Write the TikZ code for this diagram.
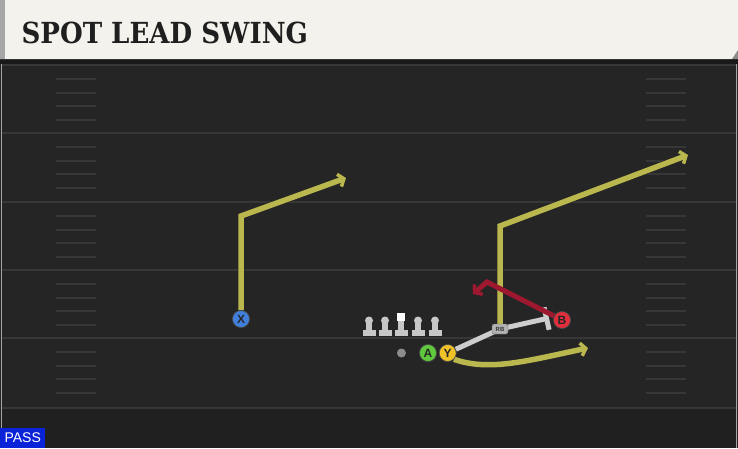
\documentclass[tikz,border=0pt]{standalone}
\usepackage{fontspec}
\setsansfont{Liberation Sans}
\newfontfamily\titleFont{DejaVu Serif Condensed}
\usetikzlibrary{shapes, positioning, arrows, arrows.meta, calc}
\definecolor{fieldColor}{RGB}{37,37,37}
\definecolor{endColor}{RGB}{32,32,32}
\definecolor{lineColor}{RGB}{55,55,55}
\definecolor{headerColor}{RGB}{244,242,236}
\definecolor{routeColor}{RGB}{186,183,78}
\definecolor{blockColor}{RGB}{205,205,205}
\definecolor{redRoute}{RGB}{158,24,48}
\definecolor{xColor}{RGB}{64,128,220}
\definecolor{aColor}{RGB}{96,200,60}
\definecolor{yColor}{RGB}{240,196,40}
\definecolor{bColor}{RGB}{225,45,60}
\definecolor{passColor}{RGB}{10,34,216}
\colorlet{lineman}{black!22}
\pgfdeclarelayer{field}
\pgfdeclarelayer{routes}
\pgfsetlayers{field,routes,main}
\tikzstyle{player}=[circle, minimum size=17pt, inner sep=0pt, draw=black!70,
line width=0.7pt, font=\sffamily\bfseries\fontsize{12}{12}\selectfont, text=black!85]
\tikzstyle{badge}=[rectangle, rounded corners=2pt, minimum width=16pt, minimum height=10pt,
inner sep=0pt, fill=black!30, draw=black!60, line width=0.4pt,
font=\sffamily\bfseries\fontsize{6}{6}\selectfont, text=black!80]
\tikzstyle{route}=[line width=5.5pt, draw=routeColor, line join=miter,
preaction={draw=black!85, line width=7pt}]
\tikzstyle{redroute}=[line width=5pt, draw=redRoute, line join=miter]
\tikzstyle{block}=[line width=5pt, draw=blockColor, -|]
\tikzstyle{arrow}=[-{Straight Barb[length=5pt, width=13pt, line width=3.5pt]}]
\tikzstyle{hash}=[line width=2pt, draw=lineColor]

\begin{document}
\begin{tikzpicture}[x=1pt, y=-1pt]
      \useasboundingbox (0,0) rectangle (738,448);
      \begin{pgfonlayer}{field}
        \fill [fieldColor] (0,59) rectangle (738,448);
        \fill [endColor] (0,409) rectangle (738,448);
        \fill [black!90] (0,59) rectangle (738,64);
        \fill [headerColor] (0,0) -- (738,0) -- (738,50) -- (732,59) -- (0,59) -- cycle;
        \fill [black!35] (0,0) rectangle (5,59);
        \fill [black!45] (732,59) -- (738,50) -- (738,59) -- cycle;
        \draw [black!35, line width=1.5pt] (1.5,64) -- (1.5,448);
        \draw [black!35, line width=1.5pt] (736.5,64) -- (736.5,448);
        \foreach \yl in {65,133,202,270,338,408}
          \draw [hash] (2,\yl) -- (736,\yl);
        \foreach \yl in {65,133,202,270,338}
          \foreach \dy in {14,28,41,55} {
            \draw [hash] (56,\yl+\dy) -- (96,\yl+\dy);
            \draw [hash] (646,\yl+\dy) -- (686,\yl+\dy);
          }
      \end{pgfonlayer}
      \node (title) [anchor=west, text=black!88,
        font=\titleFont\bfseries\fontsize{29}{29}\selectfont] at (18,32.5) {SPOT LEAD SWING};
      \node (mode) [anchor=south west, fill=passColor, text=white, minimum width=45pt,
        minimum height=20pt, inner sep=0pt, font=\sffamily\fontsize{14}{14}\selectfont]
        at (0,448) {PASS};
      \foreach \lx in {369,385,418,435} {
        \fill [lineman] (\lx,320.5) circle [radius=4pt];
        \fill [lineman] (\lx-3,321) rectangle (\lx+3,331);
        \fill [lineman] (\lx-6.5,330) rectangle (\lx+6.5,336);
      }
      \fill [white] (397,313) rectangle (405,321);
      \fill [lineman] (398,321) rectangle (404,331);
      \fill [lineman] (394.5,330) rectangle (407.5,336);
      \node (X) [player, fill=xColor] at (241,319) {X};
      \node (A) [player, fill=aColor] at (428,353) {A};
      \node (Y) [player, fill=yColor, right=2pt of A] {Y};
      \node (ball) [circle, fill=black!45, minimum size=9pt, inner sep=0pt, left=13pt of A] {};
      \node (B) [player, fill=bColor] at (562,320) {B};
      \node (RB) [badge] at (500,329) {RB};
      \coordinate (xBreak) at (241,216);
      \coordinate (xEnd) at (346,178);
      \coordinate (rbBreak) at (500,226);
      \coordinate (rbEnd) at (688,155);
      \coordinate (blockEnd) at (549,318);
      \coordinate (bBreak) at (487,282);
      \coordinate (bEnd) at (473,294);
      \coordinate (swingEnd) at (588,348);
      \begin{pgfonlayer}{routes}
        \draw [route, arrow] (X) -- (xBreak) -- (xEnd);
        \draw [route, arrow] (RB.north) -- (rbBreak) -- (rbEnd);
        \draw [route, arrow] (Y.south east) .. controls (490,372) and (530,360) .. (swingEnd);
        \draw [block] (Y) -- (RB.center) -- (blockEnd);
        \draw [redroute, arrow] (B) -- (bBreak) -- (bEnd);
      \end{pgfonlayer}
    \end{tikzpicture}
\end{document}
